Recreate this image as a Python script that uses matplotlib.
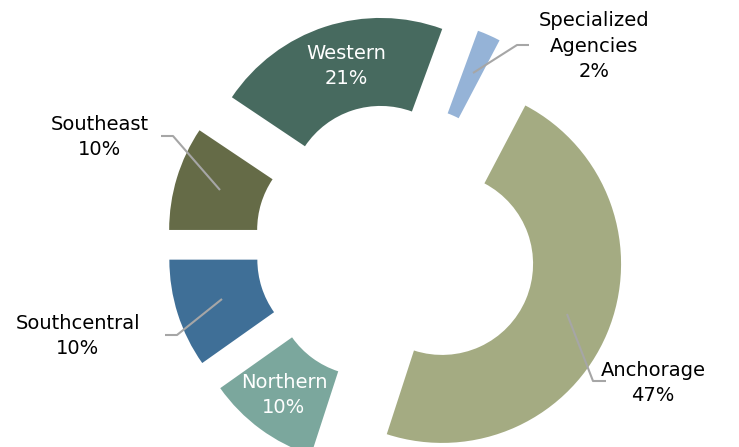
import matplotlib
matplotlib.use('Agg')
import matplotlib.pyplot as plt

# Slice data, clockwise from the top (shares,
# labels show the rounded percentages)
regions = ['Specialized\nAgencies', 'Anchorage', 'Northern', 'Southcentral', 'Southeast', 'Western']
shares = [2.1, 47.3, 10.2, 9.8, 9.4, 21.2]
pct_labels = [2, 47, 10, 10, 10, 21]
colors = ['#95B3D7', '#A4AB82', '#7BA79D', '#3F6F97', '#656B47', '#476A5F']

W, H = 739, 447
cx, cy = 396, H - 244.5
R, ring = 179, 88

fig = plt.figure(figsize=(W / 100, H / 100), dpi=100)
ax = fig.add_axes([0, 0, 1, 1])

ax.pie(shares, colors=colors, startangle=69.84, counterclock=False,
       center=(cx, cy), radius=R, explode=[50] * len(shares),
       wedgeprops=dict(width=ring, edgecolor='none'))

ax.set_xlim(0, W)
ax.set_ylim(0, H)
ax.set_aspect('equal')
ax.axis('off')

font = ['DejaVu Sans']

def label(x, y, text, color='black'):
    ax.text(x, H - y, text, ha='center', va='center', fontsize=14,
            color=color, family=font, linespacing=1.45)

def leader(xs, ys):
    ax.plot(xs, [H - v for v in ys], color='#A6A6A6', lw=1.5,
            solid_capstyle='butt')

# labels
positions = [(594, 46), (653, 383), (284, 395), (78, 336), (100, 137), (346, 66)]
text_colors = ['black', 'black', 'white', 'black', 'black', 'white']
for name, pct, pos, col in zip(regions, pct_labels, positions, text_colors):
    label(pos[0], pos[1], f'{name}\n{pct}%', col)

# leader lines
leader([473, 517, 529], [73, 45, 45])
leader([161, 173, 220], [136, 136, 190])
leader([165, 177, 222], [335, 335, 299])
leader([567, 593, 606], [314, 381, 381])

fig.savefig('out.png', dpi=100)
